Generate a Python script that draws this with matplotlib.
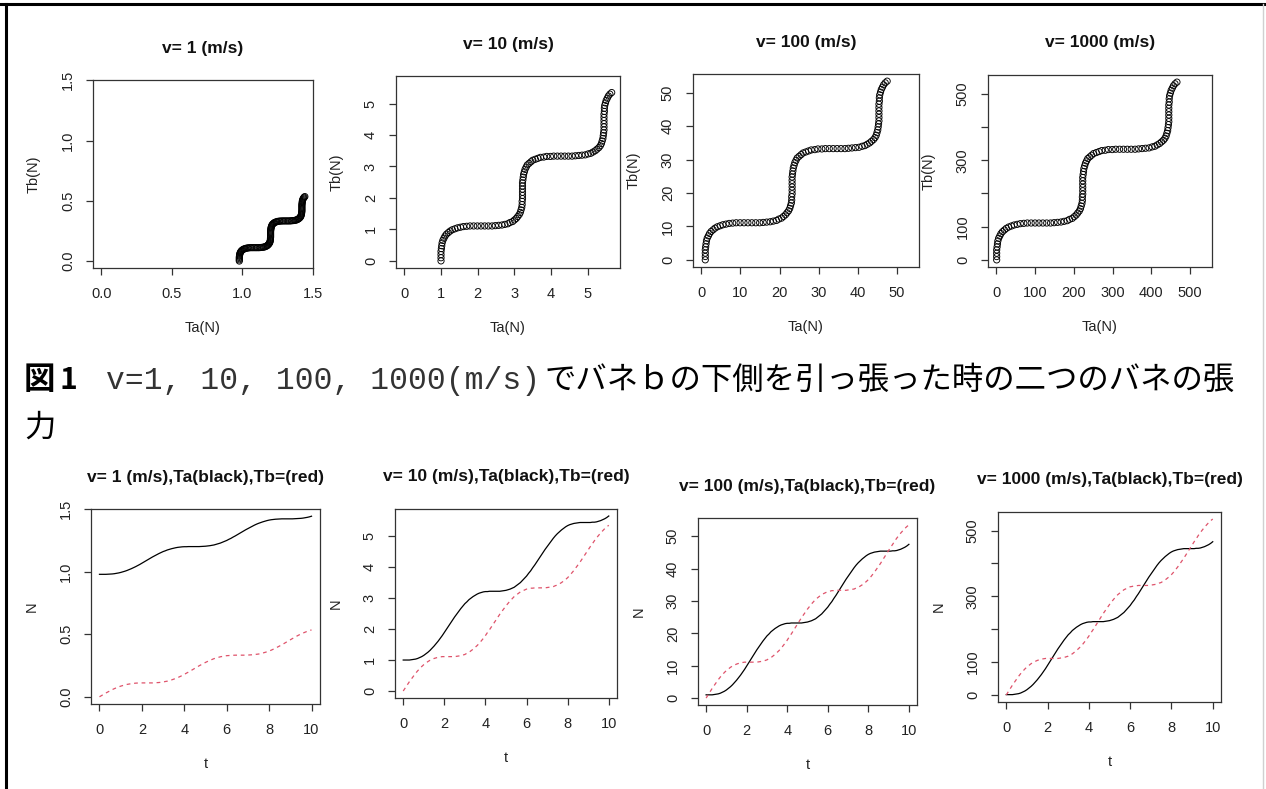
"""
Tension of two springs a, b when the lower end of spring b is pulled at
v = 1, 10, 100, 1000 (m/s).  Top row: Tb vs Ta, bottom row: Ta, Tb vs t.
"""

import numpy as np
import matplotlib
matplotlib.use("Agg")
import matplotlib.pyplot as plt
from matplotlib.lines import Line2D

plt.rcParams["font.family"] = ["Liberation Sans", "Noto Sans CJK JP", "DejaVu Sans"]

W, H = 1266, 789

# sampling grid of the simulation (t = 0, 0.1, ..., 10)
t = np.linspace(0, 10, 101)

velocities = ["1", "10", "100", "1000"]

# values
ta_v1 = [
    0.980, 0.980, 0.980, 0.980, 0.981, 0.982, 0.983, 0.985, 0.988, 0.991,
    0.995, 1.000, 1.005, 1.011, 1.018, 1.025, 1.033, 1.041, 1.050, 1.059,
    1.069, 1.079, 1.089, 1.099, 1.109, 1.119, 1.128, 1.137, 1.146, 1.154,
    1.162, 1.168, 1.175, 1.180, 1.185, 1.189, 1.193, 1.196, 1.198, 1.200,
    1.201, 1.201, 1.202, 1.202, 1.202, 1.202, 1.202, 1.202, 1.203, 1.204,
    1.205, 1.207, 1.209, 1.212, 1.215, 1.220, 1.225, 1.230, 1.237, 1.244,
    1.251, 1.260, 1.268, 1.278, 1.287, 1.297, 1.307, 1.317, 1.327, 1.337,
    1.346, 1.355, 1.364, 1.373, 1.381, 1.388, 1.394, 1.400, 1.405, 1.410,
    1.414, 1.417, 1.419, 1.421, 1.422, 1.423, 1.424, 1.424, 1.424, 1.424,
    1.424, 1.424, 1.425, 1.426, 1.427, 1.428, 1.430, 1.433, 1.436, 1.440, 1.445]
tb_v1 = [
    0.000, 0.010, 0.020, 0.030, 0.039, 0.048, 0.057, 0.065, 0.072, 0.079,
    0.085, 0.090, 0.095, 0.099, 0.102, 0.105, 0.107, 0.109, 0.110, 0.111,
    0.111, 0.111, 0.111, 0.111, 0.111, 0.111, 0.112, 0.113, 0.114, 0.116,
    0.118, 0.122, 0.125, 0.130, 0.135, 0.141, 0.147, 0.154, 0.162, 0.170,
    0.179, 0.189, 0.198, 0.208, 0.218, 0.228, 0.238, 0.248, 0.257, 0.266,
    0.275, 0.283, 0.291, 0.298, 0.305, 0.310, 0.315, 0.320, 0.323, 0.326,
    0.329, 0.330, 0.332, 0.332, 0.333, 0.333, 0.333, 0.333, 0.333, 0.333,
    0.334, 0.335, 0.336, 0.337, 0.340, 0.342, 0.346, 0.350, 0.355, 0.360,
    0.366, 0.373, 0.381, 0.389, 0.398, 0.407, 0.416, 0.426, 0.436, 0.446,
    0.456, 0.466, 0.475, 0.485, 0.494, 0.502, 0.510, 0.517, 0.524, 0.530, 0.535]

ta_v10 = [
    1.00, 1.00, 1.00, 1.00, 1.01, 1.02, 1.03, 1.05, 1.08, 1.11,
    1.15, 1.20, 1.25, 1.31, 1.38, 1.45, 1.53, 1.61, 1.70, 1.79,
    1.89, 1.99, 2.09, 2.19, 2.29, 2.39, 2.48, 2.57, 2.66, 2.74,
    2.82, 2.88, 2.95, 3.00, 3.05, 3.09, 3.13, 3.16, 3.18, 3.20,
    3.21, 3.21, 3.22, 3.22, 3.22, 3.22, 3.22, 3.22, 3.23, 3.24,
    3.25, 3.27, 3.29, 3.32, 3.35, 3.40, 3.45, 3.50, 3.57, 3.64,
    3.71, 3.80, 3.88, 3.98, 4.07, 4.17, 4.27, 4.37, 4.47, 4.57,
    4.66, 4.75, 4.84, 4.93, 5.01, 5.08, 5.14, 5.20, 5.25, 5.30,
    5.34, 5.37, 5.39, 5.41, 5.42, 5.43, 5.44, 5.44, 5.44, 5.44,
    5.44, 5.44, 5.45, 5.45, 5.46, 5.48, 5.50, 5.53, 5.56, 5.60, 5.65]
tb_v10 = [
    0.00, 0.10, 0.20, 0.30, 0.39, 0.48, 0.57, 0.65, 0.72, 0.79,
    0.85, 0.90, 0.95, 0.99, 1.02, 1.05, 1.07, 1.09, 1.10, 1.11,
    1.11, 1.11, 1.11, 1.11, 1.11, 1.11, 1.12, 1.13, 1.14, 1.16,
    1.18, 1.22, 1.25, 1.30, 1.35, 1.41, 1.47, 1.54, 1.62, 1.70,
    1.79, 1.89, 1.98, 2.08, 2.18, 2.28, 2.38, 2.48, 2.57, 2.66,
    2.75, 2.83, 2.91, 2.98, 3.05, 3.10, 3.15, 3.20, 3.23, 3.26,
    3.29, 3.30, 3.32, 3.32, 3.33, 3.33, 3.33, 3.33, 3.33, 3.33,
    3.34, 3.35, 3.36, 3.37, 3.40, 3.42, 3.46, 3.50, 3.55, 3.60,
    3.66, 3.73, 3.81, 3.89, 3.98, 4.07, 4.16, 4.26, 4.36, 4.46,
    4.56, 4.66, 4.75, 4.85, 4.94, 5.02, 5.10, 5.17, 5.24, 5.30, 5.35]

ta_v100 = [
    1.0, 1.0, 1.0, 1.0, 1.1, 1.2, 1.3, 1.5, 1.8, 2.1,
    2.5, 3.0, 3.5, 4.1, 4.8, 5.5, 6.3, 7.1, 8.0, 8.9,
    9.9, 10.9, 11.9, 12.9, 13.9, 14.9, 15.8, 16.7, 17.6, 18.4,
    19.2, 19.8, 20.5, 21.0, 21.5, 21.9, 22.3, 22.6, 22.8, 23.0,
    23.1, 23.1, 23.2, 23.2, 23.2, 23.2, 23.2, 23.2, 23.3, 23.4,
    23.5, 23.7, 23.9, 24.2, 24.5, 25.0, 25.5, 26.0, 26.7, 27.4,
    28.1, 29.0, 29.8, 30.8, 31.7, 32.7, 33.7, 34.7, 35.7, 36.7,
    37.6, 38.5, 39.4, 40.3, 41.1, 41.8, 42.4, 43.0, 43.5, 44.0,
    44.4, 44.7, 44.9, 45.1, 45.2, 45.3, 45.4, 45.4, 45.4, 45.4,
    45.4, 45.4, 45.5, 45.5, 45.6, 45.8, 46.0, 46.3, 46.6, 47.0, 47.5]
tb_v100 = [
    0.0, 1.0, 2.0, 3.0, 3.9, 4.8, 5.7, 6.5, 7.2, 7.9,
    8.5, 9.0, 9.5, 9.9, 10.2, 10.5, 10.7, 10.9, 11.0, 11.1,
    11.1, 11.1, 11.1, 11.1, 11.1, 11.1, 11.2, 11.3, 11.4, 11.6,
    11.8, 12.2, 12.5, 13.0, 13.5, 14.1, 14.7, 15.4, 16.2, 17.0,
    17.9, 18.9, 19.8, 20.8, 21.8, 22.8, 23.8, 24.8, 25.7, 26.6,
    27.5, 28.3, 29.1, 29.8, 30.5, 31.0, 31.5, 32.0, 32.3, 32.6,
    32.9, 33.0, 33.2, 33.2, 33.3, 33.3, 33.3, 33.3, 33.3, 33.3,
    33.4, 33.5, 33.6, 33.7, 34.0, 34.2, 34.6, 35.0, 35.5, 36.0,
    36.6, 37.3, 38.1, 38.9, 39.8, 40.7, 41.6, 42.6, 43.6, 44.6,
    45.6, 46.6, 47.5, 48.5, 49.4, 50.2, 51.0, 51.7, 52.4, 53.0, 53.5]

ta_v1000 = [
    1, 1, 1, 1, 2, 3, 4, 6, 9, 12,
    16, 21, 26, 32, 39, 46, 54, 62, 71, 80,
    90, 100, 110, 120, 130, 140, 149, 158, 167, 175,
    183, 189, 196, 201, 206, 210, 214, 217, 219, 221,
    222, 222, 223, 223, 223, 223, 223, 223, 224, 225,
    226, 228, 230, 233, 236, 241, 246, 251, 258, 265,
    272, 281, 289, 299, 308, 318, 328, 338, 348, 358,
    367, 376, 385, 394, 402, 409, 415, 421, 426, 431,
    435, 438, 440, 442, 443, 444, 445, 445, 445, 445,
    445, 445, 446, 446, 447, 449, 451, 454, 457, 461, 466]
tb_v1000 = [
    0, 10, 20, 30, 39, 48, 57, 65, 72, 79,
    85, 90, 95, 99, 102, 105, 107, 109, 110, 111,
    111, 111, 111, 111, 111, 111, 112, 113, 114, 116,
    118, 122, 125, 130, 135, 141, 147, 154, 162, 170,
    179, 189, 198, 208, 218, 228, 238, 248, 257, 266,
    275, 283, 291, 298, 305, 310, 315, 320, 323, 326,
    329, 330, 332, 332, 333, 333, 333, 333, 333, 333,
    334, 335, 336, 337, 340, 342, 346, 350, 355, 360,
    366, 373, 381, 389, 398, 407, 416, 426, 436, 446,
    456, 466, 475, 485, 494, 502, 510, 517, 524, 530, 535]

ta_all = [ta_v1, ta_v10, ta_v100, ta_v1000]
tb_all = [tb_v1, tb_v10, tb_v100, tb_v1000]

# tick positions / labels per panel (same for Ta, Tb and N axes)
ticks_all = [
    [0.0, 0.5, 1.0, 1.5],
    [0, 1, 2, 3, 4, 5],
    [0, 10, 20, 30, 40, 50],
    [0, 100, 200, 300, 400, 500],
]
xtick_labels = [
    ["0.0", "0.5", "1.0", "1.5"],
    ["0", "1", "2", "3", "4", "5"],
    ["0", "10", "20", "30", "40", "50"],
    ["0", "100", "200", "300", "400", "500"],
]
ytick_labels = [
    ["0.0", "0.5", "1.0", "1.5"],
    ["0", "1", "2", "3", "4", "5"],
    ["0", "10", "20", "30", "40", "50"],
    ["0", "100", "", "300", "", "500"],
]
t_ticks = [0, 2, 4, 6, 8, 10]

# axes boxes in pixels: left, top, right, bottom
top_boxes = [(93, 80, 313, 268), (396, 76, 620, 268),
             (693, 74, 919, 267), (988, 75, 1212, 267)]
bottom_boxes = [(91, 509, 320, 704), (395, 509, 617, 698),
                (698, 518, 917, 705), (998, 512, 1221, 702)]

BOX = "#333333"
RED = "#DF536B"


def px_axes(fig, box):
    left, top, right, bottom = box
    return fig.add_axes([left / W, 1 - bottom / H, (right - left) / W, (bottom - top) / H])


def r_range(values):
    lo, hi = min(values), max(values)
    pad = 0.04 * (hi - lo)
    return lo - pad, hi + pad


def style_axes(ax, box, title, xlabel, ylabel):
    left, top, right, bottom = box
    w, h = right - left, bottom - top
    for sp in ax.spines.values():
        sp.set_color(BOX)
        sp.set_linewidth(0.9)
    ax.tick_params(direction="out", length=5, width=0.9, color=BOX,
                   labelsize=10.5, labelcolor="#222222")
    ax.tick_params(axis="x", pad=8.5)
    ax.tick_params(axis="y", pad=8, labelrotation=90)
    for lbl in ax.get_yticklabels():
        lbl.set_va("center")
    ax.text(0.5, 1 + 32 / h, title, transform=ax.transAxes, ha="center",
            va="center", fontsize=12.5, fontweight="bold", color="#111111")
    ax.set_xlabel(xlabel, fontsize=10.5, color="#222222")
    ax.set_ylabel(ylabel, fontsize=10.5, color="#222222")
    ax.xaxis.set_label_coords(0.5, -60 / h)
    ax.yaxis.set_label_coords(-59 / w, 0.5)
    ax.xaxis.label.set_va("center")
    ax.yaxis.label.set_va("center")


fig = plt.figure(figsize=(W / 100, H / 100), dpi=100)

for i, v in enumerate(velocities):
    ta, tb = ta_all[i], tb_all[i]
    lim = r_range([0] + ta + tb)

    # top row: Tb against Ta
    ax = px_axes(fig, top_boxes[i])
    ax.scatter(ta, tb, s=20, facecolors="none", edgecolors="black", linewidths=0.65)
    ax.set_xlim(lim)
    ax.set_ylim(lim)
    ax.set_xticks(ticks_all[i])
    ax.set_xticklabels(xtick_labels[i])
    ax.set_yticks(ticks_all[i])
    ax.set_yticklabels(ytick_labels[i])
    style_axes(ax, top_boxes[i], f"v= {v} (m/s)", "Ta(N)", "Tb(N)")

    # bottom row: Ta (black) and Tb (red) against t
    ax = px_axes(fig, bottom_boxes[i])
    ax.plot(t, ta, color="black", lw=0.9)
    ax.plot(t, tb, color=RED, lw=0.9, dashes=(3, 3))
    ax.set_xlim(r_range(list(t)))
    ax.set_ylim(r_range(ta + tb))
    ax.set_xticks(t_ticks)
    ax.set_xticklabels([str(x) for x in t_ticks])
    ax.set_yticks(ticks_all[i])
    ax.set_yticklabels(ytick_labels[i])
    style_axes(ax, bottom_boxes[i], f"v= {v} (m/s),Ta(black),Tb=(red)", "t", "N")

# caption between the two rows
cap_size = 22.6
base1 = 1 - 389 / H
base2 = 1 - 437 / H
fig.text(24 / W, base1, "図", fontsize=cap_size, fontweight="bold",
         family="Noto Sans CJK JP", va="baseline", ha="left")
fig.text(60 / W, base1, "1", fontsize=cap_size - 1, fontweight="bold",
         family="Noto Sans CJK JP", va="baseline", ha="left")
fig.text(106 / W, base1, "v=1, 10, 100, 1000(m/s)", fontsize=cap_size,
         family="Liberation Mono", va="baseline", ha="left", color="#333333")
fig.text(545 / W, base1, "でバネｂの下側を引っ張った時の二つのバネの張",
         fontsize=cap_size, family="Noto Sans CJK JP", va="baseline", ha="left")
fig.text(24 / W, base2, "力", fontsize=cap_size, family="Noto Sans CJK JP",
         va="baseline", ha="left")

# page frame
fig.add_artist(Line2D([0, 1], [1 - 4 / H, 1 - 4 / H], color="black", lw=2.2,
                      transform=fig.transFigure))
fig.add_artist(Line2D([6 / W, 6 / W], [0, 1 - 4 / H], color="black", lw=2.2,
                      transform=fig.transFigure))
fig.add_artist(Line2D([1263 / W, 1263 / W], [0, 1 - 4 / H], color="#d0d0d0", lw=1,
                      transform=fig.transFigure))

fig.savefig("out.png", dpi=100)
plt.close(fig)
